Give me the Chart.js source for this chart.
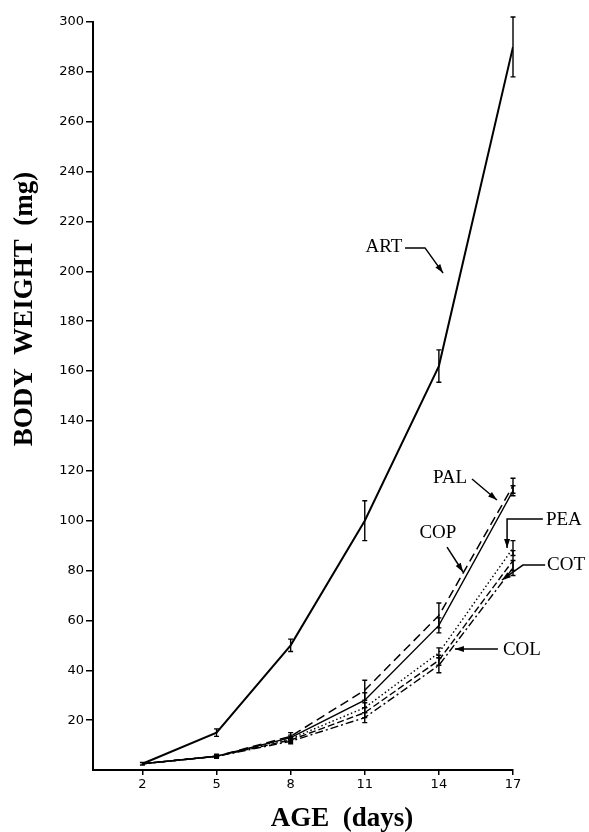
<!DOCTYPE html>
<html>
<head>
<meta charset="utf-8">
<script src="https://cdn.jsdelivr.net/npm/chart.js@4"></script>
<style>
  html, body { margin: 0; padding: 0; background: #fff; }
  #wrap { width: 589px; height: 832px; position: relative; }
</style>
</head>
<body>
<div id="wrap"><canvas id="c" width="589" height="832"></canvas></div>
<script>
// ---- data ----
const ages = [2, 5, 8, 11, 14, 17];
const xTicks = [2, 5, 8, 11, 14, 17];
const yTicks = [20, 40, 60, 80, 100, 120, 140, 160, 180, 200, 220, 240, 260, 280, 300];
const yTickLabels = ["20", "40", "60", "80", "100", "120", "140", "160", "180", "200", "220", "240", "260", "280", "300"];

const artValues = [2.5, 15, 50, 100, 162, 290];
const palValues = [2.5, 5.5, 13.5, 32, 62, 114];
const copValues = [2.5, 5.5, 13, 28, 58, 112];
const peaValues = [2.5, 5.5, 12.5, 25, 47, 89];
const cotValues = [2.5, 5.5, 12, 23, 44, 84];
const colValues = [2.5, 5.5, 11.5, 21, 42, 81];

const artErr = [0.5, 1.5, 2.5, 8, 6.5, 12];
const palErr = [0, 0.8, 1.5, 4, 5, 3];
const copErr = [0, 0.5, 1, 3, 3, 2];
const peaErr = [0, 0.5, 1, 2, 2, 3];
const cotErr = [0, 0.5, 1, 2, 2, 4];
const colErr = [0, 0.5, 1, 2, 3, 3];

const seriesNames = ["ART", "PAL", "COP", "PEA", "COT", "COL"];

// ---- annotation placement (in data units) ----
const annotations = [
  { text: "ART", at: [11.78, 209.8], path: [[12.63, 209.4], [13.44, 209.4], [14.17, 199.3]] },
  { text: "PAL", at: [14.45, 117.1], path: [[15.34, 116.7], [16.35, 108.3]] },
  { text: "COP", at: [13.96, 95.1], path: [[14.33, 89.4], [14.98, 79.4]] },
  { text: "PEA", at: [19.06, 100.3], path: [[18.21, 100.7], [16.76, 100.7], [16.76, 89.0]] },
  { text: "COT", at: [19.15, 82.2], path: [[18.3, 82.2], [17.40, 82.2], [16.55, 76.2]] },
  { text: "COL", at: [17.36, 48.1], path: [[16.39, 48.5], [14.65, 48.5]] }
];

function mk(values, label, width, dash) {
  return {
    label: label,
    data: ages.map((a, i) => ({ x: a, y: values[i] })),
    borderColor: '#000',
    borderWidth: width,
    borderDash: dash,
    pointRadius: 0,
    tension: 0,
    fill: false
  };
}

const errs = [artErr, palErr, copErr, peaErr, cotErr, colErr];

const errorBarPlugin = {
  id: 'errorBars',
  afterDatasetsDraw(chart) {
    const ctx = chart.ctx;
    const xs = chart.scales.x, ys = chart.scales.y;
    ctx.save();
    ctx.strokeStyle = '#000';
    ctx.lineWidth = 1.4;
    ctx.setLineDash([]);
    chart.data.datasets.forEach((ds, di) => {
      const e = errs[di];
      ds.data.forEach((p, i) => {
        if (!e[i]) return;
        const px = xs.getPixelForValue(p.x);
        const top = ys.getPixelForValue(p.y + e[i]);
        const bot = ys.getPixelForValue(p.y - e[i]);
        ctx.beginPath();
        ctx.moveTo(px, top); ctx.lineTo(px, bot);
        ctx.moveTo(px - 2.5, top); ctx.lineTo(px + 2.5, top);
        ctx.moveTo(px - 2.5, bot); ctx.lineTo(px + 2.5, bot);
        ctx.stroke();
      });
    });
    ctx.restore();
  }
};

function arrowHead(ctx, x0, y0, x1, y1) {
  const ang = Math.atan2(y1 - y0, x1 - x0);
  const L = 9, W = 3;
  ctx.beginPath();
  ctx.moveTo(x1, y1);
  ctx.lineTo(x1 - L * Math.cos(ang) + W * Math.sin(ang), y1 - L * Math.sin(ang) - W * Math.cos(ang));
  ctx.lineTo(x1 - L * Math.cos(ang) - W * Math.sin(ang), y1 - L * Math.sin(ang) + W * Math.cos(ang));
  ctx.closePath();
  ctx.fill();
}

const annotationPlugin = {
  id: 'labels',
  afterDraw(chart) {
    const ctx = chart.ctx;
    const xs = chart.scales.x, ys = chart.scales.y;
    ctx.save();
    ctx.fillStyle = '#000';
    ctx.strokeStyle = '#000';
    ctx.lineWidth = 1.5;
    ctx.setLineDash([]);
    ctx.font = '19px "Liberation Serif", serif';
    ctx.textAlign = 'center';
    ctx.textBaseline = 'middle';
    annotations.forEach(a => {
      ctx.fillText(a.text, xs.getPixelForValue(a.at[0]), ys.getPixelForValue(a.at[1]));
      const pts = a.path.map(p => [xs.getPixelForValue(p[0]), ys.getPixelForValue(p[1])]);
      ctx.beginPath();
      ctx.moveTo(pts[0][0], pts[0][1]);
      for (let i = 1; i < pts.length; i++) ctx.lineTo(pts[i][0], pts[i][1]);
      ctx.stroke();
      const n = pts.length;
      arrowHead(ctx, pts[n - 2][0], pts[n - 2][1], pts[n - 1][0], pts[n - 1][1]);
    });
    // axis titles
    ctx.font = 'bold 27px "Liberation Serif", serif';
    ctx.fillText('AGE  (days)', 342, 819);
    ctx.translate(25, 309);
    ctx.rotate(-Math.PI / 2);
    ctx.fillText('BODY  WEIGHT  (mg)', 0, 0);
    ctx.restore();
  }
};

const tickFont = { family: '"DejaVu Sans", sans-serif', size: 13 };

new Chart(document.getElementById('c'), {
  type: 'line',
  data: {
    datasets: [
      mk(artValues, seriesNames[0], 2, []),
      mk(palValues, seriesNames[1], 1.5, [9, 5]),
      mk(copValues, seriesNames[2], 1.4, []),
      mk(peaValues, seriesNames[3], 1.4, [1.5, 2.5]),
      mk(cotValues, seriesNames[4], 1.4, [7, 3]),
      mk(colValues, seriesNames[5], 1.4, [8, 3, 2, 3])
    ]
  },
  options: {
    responsive: false,
    animation: false,
    devicePixelRatio: 1,
    layout: { padding: { top: 22, right: 76, left: 0, bottom: 0 } },
    plugins: { legend: { display: false }, tooltip: { enabled: false }, title: { display: false } },
    scales: {
      x: {
        type: 'linear',
        min: 0, max: 17,
        afterBuildTicks: s => { s.ticks = xTicks.map(v => ({ value: v })); },
        afterFit: s => { s.height = 62; },
        border: { display: true, color: '#000', width: 2 },
        grid: { display: true, drawOnChartArea: false, drawTicks: true, tickLength: 5, color: '#000', lineWidth: 1.5 },
        ticks: { color: '#000', font: tickFont, padding: 2, maxRotation: 0, autoSkip: false },
        title: { display: false }
      },
      y: {
        type: 'linear',
        min: 0, max: 300,
        afterBuildTicks: s => { s.ticks = yTicks.map(v => ({ value: v })); },
        afterFit: s => { s.width = 93; },
        border: { display: true, color: '#000', width: 2 },
        grid: { display: true, drawOnChartArea: false, drawTicks: true, tickLength: 7, color: '#000', lineWidth: 1.5 },
        ticks: {
          color: '#000', font: tickFont, padding: 2, autoSkip: false,
          callback: (v) => { const i = yTicks.indexOf(v); return i >= 0 ? yTickLabels[i] : ''; }
        },
        title: { display: false }
      }
    }
  },
  plugins: [errorBarPlugin, annotationPlugin]
});
</script>
</body>
</html>
